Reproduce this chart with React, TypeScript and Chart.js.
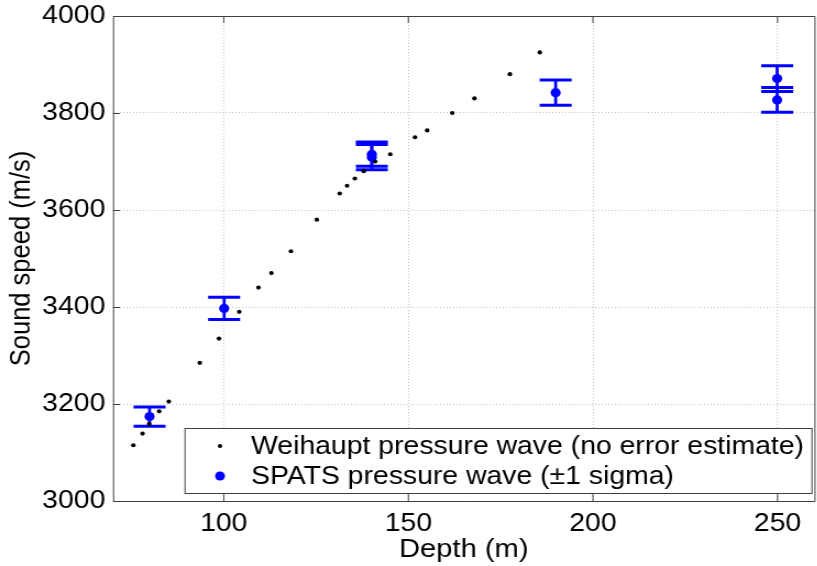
import React, { useEffect, useRef } from "react";
import { Chart, registerables } from "chart.js";

Chart.register(...registerables);

// ---- data ----
const weihauptDepth = [75.5, 78.0, 79.8, 82.5, 85.1, 93.5, 98.7, 104.2, 109.4, 112.9, 118.2, 125.2, 131.4, 133.4, 135.5, 137.9, 141.0, 145.1, 151.8, 155.1, 161.9, 167.9, 177.5, 185.6];
const weihauptSpeed = [3115, 3139, 3159, 3185, 3205, 3285, 3335, 3390, 3440, 3470, 3515, 3580, 3634, 3650, 3665, 3680, 3700, 3715, 3750, 3764, 3800, 3830, 3880, 3925];

const spatsDepth = [79.9, 100.1, 140.1, 140.1, 189.9, 249.9, 249.9];
const spatsSpeed = [3174, 3397, 3715, 3709, 3842, 3871, 3827];
const spatsError = [20, 23, 25, 26, 26, 26.5, 25.5];

const xTicks = [100, 150, 200, 250];
const yTicks = [3000, 3200, 3400, 3600, 3800, 4000];

const xTitle = "Depth (m)";
const yTitle = "Sound speed (m/s)";
const legendLabels = [
  "Weihaupt pressure wave (no error estimate)",
  "SPATS pressure wave (\u00b11 sigma)",
];

// The reference figure is slightly stretched horizontally; reproduce that.
const SX = 1.1;
const FONT = '"Liberation Sans", Arial, Helvetica, sans-serif';
const FS = 25.8;
const BLUE = "#0000ff";
const FRAME = "#404040";

const errorBarPlugin = {
  id: "errorBars",
  beforeDatasetsDraw(chart: any) {
    const { ctx } = chart;
    const xs = chart.scales.x;
    const ys = chart.scales.y;
    ctx.save();
    ctx.strokeStyle = BLUE;
    for (let i = 0; i < spatsDepth.length; i++) {
      const x = xs.getPixelForValue(spatsDepth[i]);
      const yt = ys.getPixelForValue(spatsSpeed[i] + spatsError[i]);
      const yb = ys.getPixelForValue(spatsSpeed[i] - spatsError[i]);
      const half = 16 / SX;
      ctx.lineWidth = 3 / SX;
      ctx.beginPath();
      ctx.moveTo(x, yt);
      ctx.lineTo(x, yb);
      ctx.stroke();
      ctx.lineWidth = 3;
      ctx.beginPath();
      ctx.moveTo(x - half, yt);
      ctx.lineTo(x + half, yt);
      ctx.moveTo(x - half, yb);
      ctx.lineTo(x + half, yb);
      ctx.stroke();
    }
    ctx.restore();
  },
};

const framePlugin = {
  id: "frame",
  afterDatasetsDraw(chart: any) {
    const { ctx, chartArea } = chart;
    const { left, right, top, bottom } = chartArea;
    const xs = chart.scales.x;
    const ys = chart.scales.y;
    const tl = 7;
    ctx.save();
    ctx.strokeStyle = FRAME;
    ctx.lineWidth = 1;
    ctx.beginPath();
    ctx.rect(left + 0.5, Math.round(top) + 0.5, right - left, bottom - top);
    for (const v of xTicks) {
      const x = xs.getPixelForValue(v);
      ctx.moveTo(x, bottom);
      ctx.lineTo(x, bottom - tl);
      ctx.moveTo(x, top);
      ctx.lineTo(x, top + tl);
    }
    for (const v of yTicks) {
      const y = Math.round(ys.getPixelForValue(v)) + 0.5;
      ctx.moveTo(left, y);
      ctx.lineTo(left + tl / SX, y);
    }
    ctx.stroke();
    ctx.restore();
  },
};

const legendPlugin = {
  id: "customLegend",
  afterDraw(chart: any) {
    const { ctx } = chart;
    const bx = 185 / SX, by = 428.5, bw = 627 / SX, bh = 65;
    ctx.save();
    ctx.fillStyle = "#ffffff";
    ctx.fillRect(bx, by, bw, bh);
    ctx.strokeStyle = FRAME;
    ctx.lineWidth = 1;
    ctx.strokeRect(bx, by, bw, bh);
    const rows = [
      { y: 446, color: "#000000", r: 2, label: legendLabels[0] },
      { y: 476, color: BLUE, r: 4.5, label: legendLabels[1] },
    ];
    ctx.font = `${FS}px ${FONT}`;
    ctx.textBaseline = "middle";
    ctx.textAlign = "left";
    for (const row of rows) {
      ctx.fillStyle = row.color;
      ctx.beginPath();
      ctx.arc(220 / SX, row.y, row.r, 0, Math.PI * 2);
      ctx.fill();
      ctx.fillStyle = "#000000";
      ctx.fillText(row.label, 251 / SX, row.y + 1);
    }
    ctx.restore();
  },
};

export default function App() {
  const ref = useRef<HTMLCanvasElement | null>(null);

  useEffect(() => {
    if (!ref.current) return;
    const chart = new Chart(ref.current, {
      type: "scatter",
      data: {
        datasets: [
          {
            label: legendLabels[0],
            data: weihauptDepth.map((d, i) => ({ x: d, y: weihauptSpeed[i] })),
            backgroundColor: "#000000",
            borderWidth: 0,
            pointRadius: 2.1,
            order: 0,
          },
          {
            label: legendLabels[1],
            data: spatsDepth.map((d, i) => ({ x: d, y: spatsSpeed[i] })),
            backgroundColor: BLUE,
            borderWidth: 0,
            pointRadius: 4.6,
            order: 1,
          },
        ],
      },
      options: {
        responsive: false,
        animation: false,
        devicePixelRatio: 1,
        layout: { padding: { top: 16, left: 0, right: 0, bottom: 0 } },
        plugins: {
          legend: { display: false },
          tooltip: { enabled: false },
        },
        scales: {
          x: {
            type: "linear",
            min: 70,
            max: 260,
            afterBuildTicks: (s: any) => {
              s.ticks = xTicks.map((v) => ({ value: v }));
            },
            afterFit: (s: any) => {
              s.height = 65;
              s.paddingLeft = 0;
              s.paddingRight = 0;
              s.paddingTop = 0;
              s.paddingBottom = 0;
            },
            grid: { color: "rgba(120,120,120,0.45)", lineWidth: 1, drawTicks: false },
            border: { display: false, dash: [1, 2] },
            ticks: {
              color: "#000000",
              padding: 9.5,
              font: { family: FONT, size: FS, lineHeight: 1 },
              maxRotation: 0,
              callback: (v: any) => String(v),
            },
            title: {
              display: true,
              text: xTitle,
              color: "#000000",
              font: { family: FONT, size: 26.5, lineHeight: 1 },
              padding: 3,
            },
          },
          y: {
            type: "linear",
            min: 3000,
            max: 4000,
            afterBuildTicks: (s: any) => {
              s.ticks = yTicks.map((v) => ({ value: v }));
            },
            afterFit: (s: any) => {
              s.width = 113 / SX;
              s.paddingLeft = 0;
              s.paddingRight = 0;
              s.paddingTop = 0;
              s.paddingBottom = 0;
            },
            grid: { color: "rgba(120,120,120,0.45)", lineWidth: 1, drawTicks: false },
            border: { display: false, dash: [1, 2] },
            ticks: {
              color: "#000000",
              padding: 7,
              font: { family: FONT, size: FS, lineHeight: 1 },
              callback: (v: any) => String(v),
            },
            title: {
              display: true,
              text: yTitle,
              color: "#000000",
              font: { family: FONT, size: 25.5, lineHeight: 1 },
              padding: 7,
            },
          },
        },
      } as any,
      plugins: [errorBarPlugin, framePlugin, legendPlugin],
    });
    return () => chart.destroy();
  }, []);

  return (
    <div
      style={{
        position: "absolute",
        left: 0,
        top: 0,
        width: 817,
        height: 566,
        overflow: "hidden",
        background: "#ffffff",
      }}
    >
      <canvas
        ref={ref}
        width={745}
        height={566}
        style={{
          display: "block",
          width: 745,
          height: 566,
          transform: `scaleX(${SX})`,
          transformOrigin: "0 0",
        }}
      />
    </div>
  );
}
